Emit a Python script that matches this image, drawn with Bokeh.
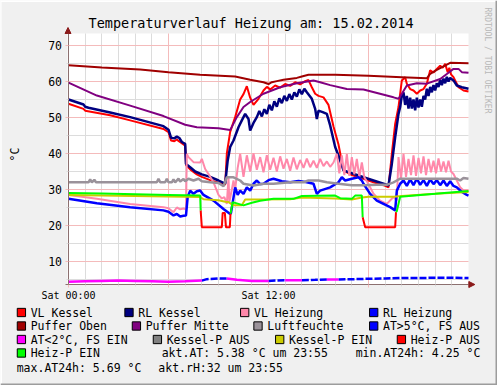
import math
from bokeh.plotting import figure
from bokeh.models import Range1d, FixedTicker, Arrow, NormalHead, BoxAnnotation
from bokeh.core.properties import value
from bokeh.embed import file_html
from bokeh.resources import INLINE

MONO = "DejaVu Sans Mono"

# ---------------- data (hours since Sat 00:00, values in degC / %) ----------------
title_text = "Temperaturverlauf Heizung am: 15.02.2014"
y_unit_label = "°C"
watermark = "RRDTOOL / TOBI OETIKER"
x_tick_hours = [0, 6, 12, 18]
x_tick_labels = ["Sat 00:00", "", "Sat 12:00", ""]
y_ticks = [10, 20, 30, 40, 50, 60, 70]
y_minor = [5, 15, 25, 35, 45, 55, 65]
hour_minor = [h for h in range(1, 24) if h % 6 != 0]

vk_h = [0, 0.9, 1.0, 2.5, 3.7, 5.7, 6.0, 6.15, 6.35, 6.5, 6.6, 6.75, 7.0, 7.05, 7.3, 7.7, 8.0, 8.5, 9.0, 9.4,
        9.5, 9.7, 10.0, 10.3, 10.5, 10.7, 10.9, 11.1, 11.4, 11.7, 11.9, 12.1, 12.4, 12.7, 13.0, 13.3, 13.6, 13.9,
        14.2, 14.4, 14.6, 14.8, 15.0, 15.3, 15.6, 15.9, 16.2, 16.5, 17.0, 17.7, 18.3, 18.9, 19.2, 19.4, 19.6,
        19.8, 20.0, 20.2, 20.3, 20.5, 20.7, 20.9, 21.1, 21.3, 21.5, 21.7, 21.9, 22.1, 22.3, 22.45, 22.6, 22.75,
        22.85, 22.95, 23.1, 23.4, 23.7, 24.0]
vk_v = [53.8, 52.4, 51.9, 50.6, 49.2, 46.8, 45.9, 43.6, 43.4, 43.9, 43.5, 43.0, 42.2, 36.8, 35.6, 34.2, 33.5, 32.6,
        31.9, 31.3, 40.0, 46.0, 50.1, 55.0, 56.5, 58.7, 55.5, 53.5, 55.2, 57.5, 58.5, 57.8, 58.9, 58.3, 59.3, 58.8,
        59.8, 59.2, 60.1, 60.4, 58.4, 56.6, 56.0, 55.6, 53.5, 47.5, 42.5, 35.3, 34.0, 33.0, 32.0, 31.2, 30.6, 39.9,
        48.2, 52.9, 60.3, 61.2, 59.4, 57.9, 57.5, 56.6, 57.5, 57.9, 59.4, 63.1, 62.5, 63.5, 64.4, 63.8, 64.9, 62.6,
        63.8, 62.0, 61.2, 58.4, 57.5, 57.2]

rk_h = [0, 0.9, 1.0, 1.2, 2.5, 3.7, 5.7, 6.0, 6.15, 6.35, 6.5, 6.65, 6.8, 7.0, 7.05, 7.3, 7.6, 8.0, 8.5, 9.0, 9.4,
        9.55, 9.7, 9.9, 10.2, 10.4, 10.6, 10.8, 10.9, 11.1, 11.3, 11.45, 11.6, 11.75, 11.9, 12.05, 12.2, 12.35,
        12.5, 12.65, 12.8, 12.95, 13.1, 13.25, 13.4, 13.55, 13.7, 13.85, 14.0, 14.15, 14.3, 14.6, 14.8, 14.9,
        15.0, 15.25, 15.5, 15.7, 16.0, 16.2, 16.5, 17.0, 17.7, 18.3, 18.9, 19.2, 19.4, 19.6, 19.8, 19.9, 20.0,
        20.1, 20.2, 20.3, 20.4, 20.5, 20.6, 20.7, 20.8, 20.9, 21.0, 21.1, 21.2, 21.3, 21.4, 21.5, 21.6, 21.7,
        21.8, 21.9, 22.0, 22.1, 22.2, 22.3, 22.4, 22.5, 22.6, 22.7, 22.8, 22.9, 23.1, 23.3, 23.6, 24.0]
rk_v = [55.0, 53.6, 53.0, 52.7, 51.4, 50.1, 47.6, 46.6, 44.4, 44.2, 44.7, 44.3, 43.2, 42.7, 37.1, 36.2, 35.0, 34.2,
        33.5, 32.5, 31.6, 38.0, 41.8, 43.6, 47.3, 49.2, 51.0, 49.6, 46.4, 48.5, 50.1, 51.8, 50.3, 52.3, 51.0, 53.5,
        52.0, 54.5, 53.0, 55.3, 54.0, 56.0, 54.6, 56.5, 55.0, 57.0, 55.8, 57.8, 56.5, 58.0, 57.0, 55.2, 52.4, 49.6,
        51.9, 51.5, 51.0, 47.8, 41.8, 39.4, 35.3, 34.5, 33.4, 32.5, 31.6, 31.1, 37.1, 44.5, 51.0, 52.9, 56.1, 57.0,
        53.5, 56.0, 52.5, 55.5, 52.5, 55.0, 52.0, 55.5, 52.8, 55.0, 53.0, 56.0, 55.0, 58.0, 56.0, 58.5, 57.0, 59.0,
        57.5, 59.5, 58.5, 60.5, 59.0, 60.8, 59.5, 61.3, 60.0, 61.0, 60.3, 58.9, 58.4, 58.0]

vh_h = [0, 1.7, 3.7, 5.7, 6.0, 6.3, 6.5, 6.7, 6.9, 7.05, 7.1, 7.2, 7.5, 7.9, 8.0, 8.2, 8.4, 8.7, 9.0, 9.2, 9.35,
        9.5, 9.6, 9.65, 9.8, 9.9, 10.0, 10.15, 10.3, 10.5, 10.7, 10.9, 11.1, 11.3, 11.5, 11.7, 11.9, 12.1, 12.3,
        12.5, 12.7, 12.9, 13.1, 13.3, 13.5, 13.7, 13.9, 14.1, 14.3, 14.5, 14.7, 14.9, 15.1, 15.3, 15.5, 15.7,
        15.9, 16.1, 16.25, 16.4, 16.55, 16.7, 16.85, 17.0, 17.15, 17.3, 17.45, 17.6, 17.75, 18.0, 18.3, 18.7,
        19.1, 19.5, 19.7, 19.8, 19.95, 20.1, 20.25, 20.4, 20.55, 20.7, 20.85, 21.0, 21.15, 21.3, 21.45, 21.6,
        21.75, 21.9, 22.05, 22.2, 22.35, 22.5, 22.65, 22.8, 22.95, 23.1, 23.3, 23.5, 23.7, 24.0]
vh_v = [28.5, 27.4, 26.0, 25.1, 24.8, 23.7, 25.0, 24.5, 24.7, 24.5, 39.9, 39.0, 37.6, 37.5, 38.5, 35.7, 34.3, 32.0,
        28.5, 27.5, 27.9, 26.0, 33.4, 26.5, 30.0, 32.5, 30.0, 36.0, 39.9, 33.5, 39.5, 35.0, 40.0, 35.5, 39.0, 34.8,
        39.5, 35.5, 38.8, 35.0, 39.2, 35.8, 38.5, 35.2, 38.9, 35.6, 38.2, 36.0, 38.6, 36.2, 38.0, 36.0, 38.5, 36.5,
        37.8, 36.3, 37.5, 39.9, 34.5, 39.5, 34.0, 39.8, 33.8, 39.0, 34.2, 38.5, 33.5, 37.5, 33.4, 31.5, 28.8, 26.9,
        26.0, 27.9, 27.0, 39.0, 33.0, 39.9, 33.5, 38.5, 34.0, 39.5, 33.8, 38.8, 34.5, 39.2, 34.0, 38.5, 34.8, 38.0,
        34.5, 38.6, 35.0, 37.8, 34.8, 38.0, 35.0, 34.3, 32.5, 30.6, 29.7, 29.7]

rh_h = [0, 1.7, 3.7, 5.7, 6.0, 6.3, 6.5, 6.7, 6.9, 7.05, 7.15, 7.3, 7.5, 7.7, 7.9, 8.1, 8.7, 9.3, 9.7, 9.75, 10.0,
        10.15, 10.3, 10.5, 10.7, 10.9, 11.1, 11.3, 11.5, 11.7, 12.0, 12.3, 12.8, 13.3, 13.8, 14.3, 14.7, 14.9,
        15.1, 15.7, 16.2, 16.4, 16.6, 17.0, 17.4, 17.6, 17.7, 18.1, 18.5, 18.9, 19.3, 19.6, 19.7, 19.9, 20.1,
        20.3, 20.5, 20.7, 20.9, 21.1, 21.3, 21.5, 21.7, 21.9, 22.1, 22.3, 22.5, 22.7, 22.9, 23.1, 23.3, 23.6,
        23.9, 24.0]
rh_v = [27.4, 26.2, 25.1, 24.2, 23.8, 22.8, 23.2, 22.5, 22.7, 22.8, 27.9, 29.7, 28.8, 29.5, 29.7, 28.5, 26.9, 24.6,
        23.2, 23.5, 30.6, 28.5, 29.7, 28.8, 30.6, 29.7, 31.6, 32.5, 31.5, 31.6, 32.6, 33.0, 32.3, 32.0, 32.4, 32.0,
        31.6, 28.8, 29.7, 30.6, 32.0, 33.4, 32.5, 33.0, 33.4, 32.5, 31.6, 28.8, 26.9, 26.0, 25.1, 24.2, 29.7, 31.6,
        32.5, 31.0, 32.8, 31.2, 33.0, 31.3, 32.6, 31.0, 32.8, 31.5, 32.6, 31.2, 32.5, 31.0, 32.3, 31.0, 30.6, 29.3,
        28.5, 28.3]

po_h = [0, 2, 4.3, 6, 7.9, 10, 10.9, 11.7, 12.0, 12.2, 12.5, 12.9, 13.7, 14.0, 14.4, 16, 18, 20, 21.5, 21.7, 22.1,
        22.5, 22.9, 24]
po_v = [64.5, 63.9, 63.3, 62.6, 61.9, 61.4, 60.5, 59.8, 59.3, 59.8, 60.1, 60.5, 61.0, 61.4, 61.9, 61.9, 61.6, 61.2,
        60.9, 62.1, 63.2, 64.2, 65.2, 65.1]

pm_h = [0, 1.7, 3.7, 5.7, 7.0, 7.7, 9.0, 9.7, 10.1, 10.5, 10.9, 11.7, 12.7, 13.7, 14.7, 15.1, 15.7, 16.7, 17.7,
        19.5, 19.8, 20.0, 20.3, 20.9, 21.5, 22.3, 22.7, 23.1, 23.4, 23.6, 24]
pm_v = [59.7, 56.1, 53.3, 50.4, 48.0, 47.3, 47.0, 46.5, 50.1, 52.9, 54.3, 56.6, 58.4, 59.5, 60.3, 59.8, 59.0, 57.9,
        57.8, 55.6, 55.2, 56.6, 58.9, 59.5, 59.4, 60.7, 62.1, 63.5, 63.5, 62.6, 62.4]

lf_h = [0, 1.2, 1.3, 1.4, 1.55, 1.65, 5.3, 5.4, 5.5, 5.8, 5.9, 6.0, 6.2, 6.3, 6.4, 6.6, 6.7, 6.9, 7.0, 7.2, 7.5,
        7.8, 8.0, 8.5, 9.0, 9.3, 9.5, 9.9, 10.3, 10.5, 11.1, 11.7, 12.3, 13.3, 14.1, 14.4, 15.0, 15.5, 16.2, 17.0,
        17.7, 18.5, 19.1, 19.5, 19.7, 19.9, 23.3, 23.5, 23.7, 24.0]
lf_v = [32.0, 32.0, 32.8, 32.0, 32.7, 32.0, 32.0, 33.0, 32.0, 32.0, 33.0, 32.0, 32.0, 32.8, 32.0, 33.0, 32.2, 32.9,
        32.3, 33.0, 32.5, 33.0, 32.3, 32.0, 31.8, 30.9, 33.4, 33.4, 32.5, 31.6, 31.1, 31.6, 31.6, 32.0, 32.0, 32.5,
        32.5, 32.0, 31.6, 31.2, 31.2, 31.3, 31.3, 32.0, 32.5, 33.0, 33.0, 32.5, 33.2, 33.0]

# outdoor temperature with frost-protection state (1 = FS EIN, 0 = FS AUS)
at_h = [0, 1, 2, 3, 4, 5, 6, 7, 8, 8.3, 9, 9.5, 10.1, 11, 12, 12.4, 13, 14, 14.8, 15.5, 16.2, 17.2, 18, 19, 20,
        21, 22, 23, 24]
at_v = [4.4, 4.5, 4.6, 4.7, 4.6, 4.5, 4.4, 4.5, 4.7, 5.1, 5.3, 5.3, 4.9, 4.6, 4.6, 4.7, 4.8, 4.8, 4.9, 5.0, 5.0,
        5.1, 5.2, 5.3, 5.4, 5.4, 5.5, 5.5, 5.4]
at_s = [1, 1, 1, 1, 1, 1, 1, 1, 1, 0, 0, 0, 1, 1, 1, 0, 0, 1, 0, 0, 1, 0, 0, 0, 0, 0, 0, 0, 0]

# boiler pump trace (1 = EIN, 0 = AUS)
kp_h = [0, 4, 7.9, 8.1, 9.0, 9.4, 9.6, 9.9, 10.4, 10.6, 13.3, 14.0, 16.0, 17.0, 17.6, 18.0, 19.5, 20.0, 22.0, 24.0]
kp_v = [28.5, 28.2, 27.9, 27.3, 27.0, 26.6, 26.5, 25.6, 25.6, 27.2, 27.3, 27.8, 27.5, 27.2, 27.8, 28.0, 28.0,
        28.2, 28.8, 29.3]
kp_s = [1] * len(kp_h)

# heating pump trace (1 = EIN, 0 = AUS)
hp_h = [0, 2, 4, 6, 7.9, 7.93, 8.0, 9.2, 9.25, 9.38, 9.45, 9.68, 9.72, 9.75, 9.85, 10.5, 11.0, 11.5, 12.3, 13.5,
        14.0, 16.0, 16.3, 17.0, 17.2, 17.6, 17.65, 17.8, 19.6, 19.65, 19.7, 19.9, 22.0, 24.0]
hp_v = [29.0, 28.9, 28.7, 28.5, 28.3, 24.2, 19.5, 19.5, 23.5, 23.5, 19.5, 19.5, 23.3, 24.0, 26.5, 25.6, 26.3, 26.9,
        27.4, 27.4, 28.2, 28.3, 27.6, 27.4, 28.3, 28.3, 22.3, 19.5, 19.5, 23.7, 24.0, 28.0, 28.8, 29.6]
hp_s = [1, 1, 1, 1, 1, 1, 0, 0, 0, 0, 0, 0, 0, 1, 1, 1, 1, 1, 1, 1, 1, 1, 1, 1, 1, 1, 1, 0, 0, 0, 1, 1, 1, 1]

legend_labels = ["VL Kessel", "RL Kessel", "VL Heizung", "RL Heizung",
                 "Puffer Oben", "Puffer Mitte", "Luftfeuchte", "AT>5°C, FS AUS",
                 "AT<2°C, FS EIN", "Kessel-P AUS", "Kessel-P EIN", "Heiz-P AUS",
                 "Heiz-P EIN"]
akt_at, min_at24, max_at24, akt_rh, akt_time = 5.38, 4.25, 5.69, 32, "23:55"

# ---------------- styles ----------------
C = {"VL Kessel": "#FF0000", "RL Kessel": "#000080", "VL Heizung": "#FF88AA", "RL Heizung": "#0000FF",
     "Puffer Oben": "#A00000", "Puffer Mitte": "#800080", "Luftfeuchte": "#9A929A",
     "AT>5°C, FS AUS": "#0000FF", "AT<2°C, FS EIN": "#FF00FF", "Kessel-P AUS": "#808080",
     "Kessel-P EIN": "#CCCC00", "Heiz-P AUS": "#FF0000", "Heiz-P EIN": "#00FF00"}
BG = "#F0F0F0"
AXIS_C = "#8C7070"
ARROW_C = "#8B1A1A"
MAJ_C = "#F4BBBB"
MIN_C = "#DCDCDC"

for a, b in [(vk_h, vk_v), (rk_h, rk_v), (vh_h, vh_v), (rh_h, rh_v), (po_h, po_v), (pm_h, pm_v),
             (lf_h, lf_v), (at_h, at_v), (at_h, at_s), (kp_h, kp_v), (hp_h, hp_v), (hp_h, hp_s)]:
    if len(a) != len(b):
        raise ValueError("length mismatch %d %d" % (len(a), len(b)))


def split_runs(hs, vs, st):
    """Split a trace into runs; segment i-1 -> i takes the state of point i."""
    out = {}
    xs, ys = [hs[0]], [vs[0]]
    cur = st[1]
    for i in range(1, len(hs)):
        if st[i] != cur:
            out.setdefault(cur, ([], []))
            out[cur][0].append(xs)
            out[cur][1].append(ys)
            xs, ys = [hs[i - 1]], [vs[i - 1]]
            cur = st[i]
        xs.append(hs[i])
        ys.append(vs[i])
    out.setdefault(cur, ([], []))
    out[cur][0].append(xs)
    out[cur][1].append(ys)
    return out


# ---------------- geometry (canvas pixels) ----------------
W, H = 497, 385
PX_H = 400.0 / 24.0      # pixels per hour
PX_V = 3.6               # pixels per degree
X0_PX, Y0_PX = 68.0, 297.0   # canvas pixel of (0 h, 0 degC)
X_LO, X_HI = -0.06, 24.0
Y_LO, Y_HI = 3.61, 73.33

p = figure(width=W, height=H,
           x_range=Range1d(-X0_PX / PX_H, (W - X0_PX) / PX_H),
           y_range=Range1d(-(H - Y0_PX) / PX_V, Y0_PX / PX_V),
           output_backend="svg", toolbar_location=None, title=None, min_border=0,
           background_fill_color=BG, border_fill_color=BG, outline_line_color=None)
p.extra_x_ranges = {"px": Range1d(0, W)}
p.extra_y_ranges = {"px": Range1d(H, 0)}

# white plot area
p.add_layout(BoxAnnotation(left=X_LO, right=X_HI, bottom=Y_LO, top=Y_HI, fill_color="white",
                           fill_alpha=1.0, line_color=None, level="image"))

# axes (placed at the edges of the plot area)
p.xaxis.fixed_location = Y_LO
p.yaxis.fixed_location = X_LO + 0.03
p.xaxis.bounds = (X_LO - 0.15, 24.1)
p.yaxis.bounds = (Y_LO, Y_HI)
p.xaxis.ticker = FixedTicker(ticks=x_tick_hours, minor_ticks=hour_minor)
p.xaxis.major_label_overrides = {h: lab for h, lab in zip(x_tick_hours, x_tick_labels)}
p.yaxis.ticker = FixedTicker(ticks=y_ticks, minor_ticks=y_minor)
for ax in (p.xaxis[0], p.yaxis[0]):
    ax.axis_line_color = AXIS_C
    ax.axis_line_width = 1
    ax.major_tick_line_color = MAJ_C
    ax.major_tick_out = 3
    ax.major_tick_in = 0
    ax.minor_tick_line_color = MIN_C
    ax.minor_tick_out = 2
    ax.minor_tick_in = 0
    ax.major_label_text_font = MONO
    ax.major_label_text_color = "black"
p.xaxis.major_label_text_font_size = "10px"
p.xaxis.major_label_standoff = 2
p.yaxis.major_label_text_font_size = "11.5px"
p.yaxis.major_label_standoff = 3

p.xgrid.cross_bounds = (Y_LO, Y_HI)
p.ygrid.cross_bounds = (X_LO, X_HI)
for g in (p.xgrid[0], p.ygrid[0]):
    g.grid_line_color = MAJ_C
    g.grid_line_width = 1
    g.minor_grid_line_color = MIN_C
    g.minor_grid_line_width = 1

# ---------------- traces (legend order = drawing order) ----------------
p.line(vk_h, vk_v, line_color=C["VL Kessel"], line_width=2)
p.line(rk_h, rk_v, line_color=C["RL Kessel"], line_width=2.5)
p.line(vh_h, vh_v, line_color=C["VL Heizung"], line_width=2)
p.line(rh_h, rh_v, line_color=C["RL Heizung"], line_width=2.5)
p.line(po_h, po_v, line_color=C["Puffer Oben"], line_width=2)
p.line(pm_h, pm_v, line_color=C["Puffer Mitte"], line_width=2)
p.line(lf_h, lf_v, line_color=C["Luftfeuchte"], line_width=2.5)

at_runs = split_runs(at_h, at_v, at_s)
if 0 in at_runs:
    p.multi_line(at_runs[0][0], at_runs[0][1], line_color=C["AT>5°C, FS AUS"], line_width=2.5, line_dash="7 2")
if 1 in at_runs:
    p.multi_line(at_runs[1][0], at_runs[1][1], line_color=C["AT<2°C, FS EIN"], line_width=2.5)

kp_runs = split_runs(kp_h, kp_v, kp_s)
if 0 in kp_runs:
    p.multi_line(kp_runs[0][0], kp_runs[0][1], line_color=C["Kessel-P AUS"], line_width=2)
if 1 in kp_runs:
    p.multi_line(kp_runs[1][0], kp_runs[1][1], line_color=C["Kessel-P EIN"], line_width=2)

hp_runs = split_runs(hp_h, hp_v, hp_s)
if 0 in hp_runs:
    p.multi_line(hp_runs[0][0], hp_runs[0][1], line_color=C["Heiz-P AUS"], line_width=2)
if 1 in hp_runs:
    p.multi_line(hp_runs[1][0], hp_runs[1][1], line_color=C["Heiz-P EIN"], line_width=2)

# axis arrows
p.add_layout(Arrow(end=NormalHead(size=6, fill_color=ARROW_C, line_color=ARROW_C, line_width=1),
                   x_start=24.0, y_start=Y_LO, x_end=24.38, y_end=Y_LO, line_color=AXIS_C, line_width=1))
p.add_layout(Arrow(end=NormalHead(size=6, fill_color=ARROW_C, line_color=ARROW_C, line_width=1),
                   x_start=X_LO + 0.03, y_start=Y_HI, x_end=X_LO + 0.03, y_end=75.0,
                   line_color=AXIS_C, line_width=1))

# ---------------- texts in canvas pixels ----------------
TXT = dict(x_range_name="px", y_range_name="px", text_font=value(MONO), text_color="black")
p.text(x=[88], y=[22], text=[title_text], text_font_size="13.5px", text_baseline="alphabetic",
       text_align="left", **TXT)
p.text(x=[14], y=[154], text=[y_unit_label], text_font_size="11.5px", text_baseline="middle",
       text_align="center", angle=math.pi / 2, **TXT)
p.text(x=[486.5], y=[7], text=[watermark], text_font_size="8px", text_baseline="middle",
       text_align="left", angle=-math.pi / 2, x_range_name="px", y_range_name="px",
       text_font=value(MONO), text_color="#B8B8B8")

# legend block
row_y = [312.0, 325.5, 339.0, 352.5, 367.0]
sq_left = [16.7, 124.3, 240.0, 369.0, 16.7, 131.7, 253.3, 369.0, 16.7, 152.7, 275.0, 396.7, 16.7]
sq_row = [0, 0, 0, 0, 1, 1, 1, 1, 2, 2, 2, 2, 3]

p.rect(x=[s + 4.2 for s in sq_left], y=[row_y[r] for r in sq_row], width=8.3, height=8.3,
       fill_color=[C[n] for n in legend_labels], line_color="black", line_width=1,
       x_range_name="px", y_range_name="px")
p.text(x=[s + 13.5 for s in sq_left], y=[row_y[r] for r in sq_row], text=legend_labels,
       text_font_size="11.5px", text_baseline="middle", text_align="left", **TXT)

info_texts = ["akt.AT: %.2f °C um %s" % (akt_at, akt_time),
              "min.AT24h: %.2f °C" % min_at24,
              "max.AT24h: %.2f °C" % max_at24,
              "akt.rH:%d um %s" % (akt_rh, akt_time)]
info_x = [161.2, 355.2, 16.2, 157.8]
info_row = [3, 3, 4, 4]
p.text(x=info_x, y=[row_y[r] for r in info_row], text=info_texts,
       text_font_size="11.5px", text_baseline="middle", text_align="left", **TXT)

# 3D frame of the image
p.segment(x0=[0, 0, W - 1, 0], y0=[0.5, 0, 0, H - 1], x1=[W, 0.5, W - 1, W], y1=[0.5, H, H, H - 1],
          line_color=["#FFFFFF", "#FFFFFF", "#9C9C9C", "#9C9C9C"], line_width=2,
          x_range_name="px", y_range_name="px")

open("out.html", "w").write(file_html(p, INLINE))
